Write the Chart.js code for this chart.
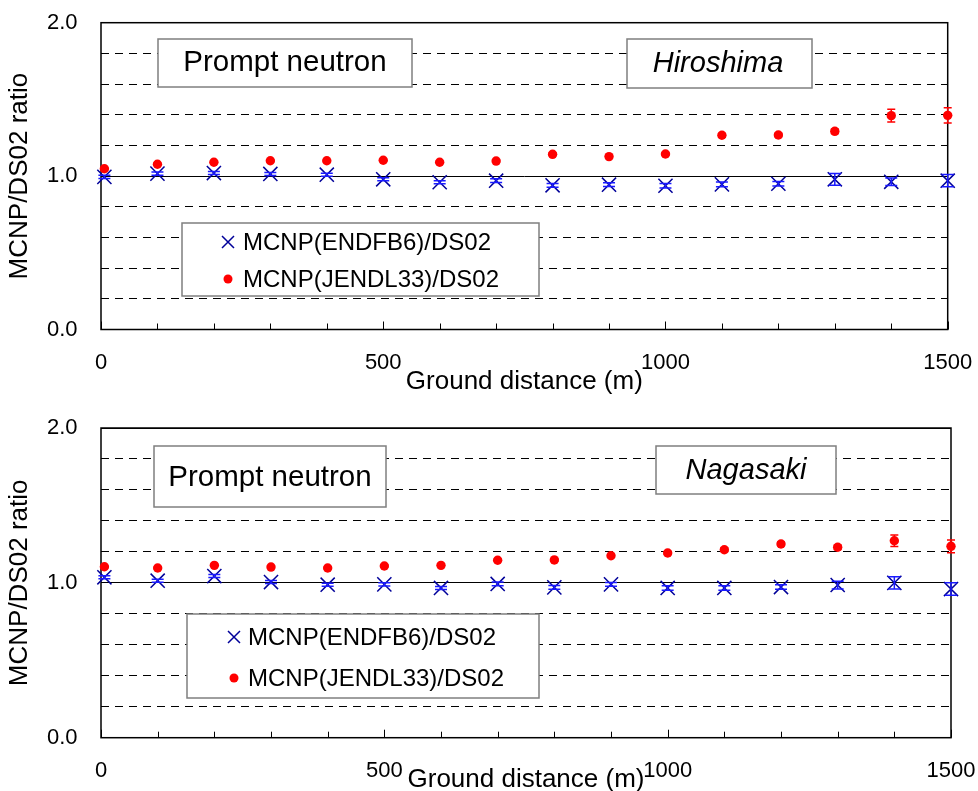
<!DOCTYPE html>
<html>
<head>
<meta charset="utf-8">
<script src="https://cdn.jsdelivr.net/npm/chart.js@4/dist/chart.umd.min.js"></script>
<style>
  html, body { margin: 0; padding: 0; background: #fff; overflow: hidden; }
  canvas { position: absolute; left: 0; }
  #chartA { top: 0; }
  #chartB { top: 395px; }
</style>
</head>
<body>
<canvas id="chartA" width="978" height="395"></canvas>
<canvas id="chartB" width="978" height="396"></canvas>
<script>
/*----data----*/
const distances = [6, 100, 200, 300, 400, 500, 600, 700, 800, 900, 1000, 1100, 1200, 1300, 1400, 1500];
const xTickLabels = [0, 500, 1000, 1500];
const yTickLabels = [0, 1, 2];

// Hiroshima
const hiroEndf    = [0.995, 1.016, 1.020, 1.014, 1.009, 0.979, 0.960, 0.970, 0.940, 0.944, 0.937, 0.946, 0.950, 0.979, 0.963, 0.970];
const hiroEndfErr = [0.010, 0.010, 0.010, 0.010, 0.010, 0.010, 0.010, 0.012, 0.012, 0.012, 0.015, 0.015, 0.015, 0.038, 0.025, 0.040];
const hiroJendl    = [1.048, 1.077, 1.090, 1.100, 1.100, 1.103, 1.090, 1.098, 1.142, 1.127, 1.144, 1.266, 1.268, 1.292, 1.394, 1.396];
const hiroJendlErr = [0.005, 0.005, 0.005, 0.005, 0.005, 0.006, 0.006, 0.006, 0.008, 0.008, 0.010, 0.012, 0.012, 0.015, 0.042, 0.050];

// Nagasaki
const nagaEndf    = [1.036, 1.014, 1.044, 1.005, 0.988, 0.990, 0.967, 0.993, 0.971, 0.990, 0.967, 0.967, 0.973, 0.986, 1.000, 0.960];
const nagaEndfErr = [0.010, 0.010, 0.010, 0.010, 0.010, 0.010, 0.010, 0.012, 0.012, 0.012, 0.015, 0.015, 0.015, 0.025, 0.040, 0.040];
const nagaJendl    = [1.104, 1.096, 1.113, 1.102, 1.096, 1.109, 1.113, 1.146, 1.148, 1.175, 1.193, 1.214, 1.251, 1.230, 1.272, 1.236];
const nagaJendlErr = [0.005, 0.005, 0.005, 0.005, 0.005, 0.006, 0.006, 0.006, 0.008, 0.008, 0.010, 0.012, 0.012, 0.015, 0.037, 0.041];

const seriesNames = ['MCNP(ENDFB6)/DS02', 'MCNP(JENDL33)/DS02'];

const FONT = '"Liberation Sans", Arial, sans-serif';
const BLUE = '#000099';
const ERRBLUE = '#1a1aff';
const RED = '#ff0000';

Chart.defaults.font.family = FONT;
Chart.defaults.color = '#000';

function isLabelled(v, list) {
  return list.some(t => Math.abs(v - t) < 1e-6);
}

/*----error bars (through the scales)----*/
const errorBars = {
  id: 'errorBars',
  afterDatasetsDraw(chart) {
    const ctx = chart.ctx, xs = chart.scales.x, ys = chart.scales.y;
    chart.data.datasets.forEach(ds => {
      ctx.save();
      ctx.strokeStyle = ds.errColor;
      ctx.lineWidth = 1.5;
      ds.data.forEach((p, i) => {
        const e = ds.errors[i];
        const px = xs.getPixelForValue(p.x);
        const top = ys.getPixelForValue(p.y + e);
        const bot = ys.getPixelForValue(p.y - e);
        ctx.beginPath();
        ctx.moveTo(px, top); ctx.lineTo(px, bot);
        ctx.moveTo(px - ds.capHalf, top); ctx.lineTo(px + ds.capHalf, top);
        ctx.moveTo(px - ds.capHalf, bot); ctx.lineTo(px + ds.capHalf, bot);
        ctx.stroke();
      });
      ctx.restore();
    });
  }
};

/*----frame, inner ticks, text boxes, legend----*/
const decor = {
  id: 'decor',
  beforeDatasetsDraw(chart, args, opts) {
    const ctx = chart.ctx, a = chart.chartArea, xs = chart.scales.x;
    ctx.save();
    // boxes
    opts.boxes.forEach(b => {
      ctx.fillStyle = '#fff';
      ctx.fillRect(b.x, b.y, b.w, b.h);
      ctx.strokeStyle = '#7f7f7f';
      ctx.lineWidth = 1.5;
      ctx.strokeRect(b.x, b.y, b.w, b.h);
      ctx.fillStyle = '#000';
      ctx.font = (b.italic ? 'italic ' : '') + b.size + 'px ' + FONT;
      ctx.textAlign = 'center';
      ctx.textBaseline = 'middle';
      ctx.fillText(b.text, b.tx, b.ty);
    });
    // legend
    const L = opts.legend;
    ctx.fillStyle = '#fff';
    ctx.fillRect(L.x, L.y, L.w, L.h);
    ctx.strokeStyle = '#7f7f7f';
    ctx.lineWidth = 1.5;
    ctx.strokeRect(L.x, L.y, L.w, L.h);
    ctx.strokeStyle = BLUE;
    ctx.lineWidth = 1.5;
    ctx.beginPath();
    ctx.moveTo(L.sx - 6, L.y1 - 6); ctx.lineTo(L.sx + 6, L.y1 + 6);
    ctx.moveTo(L.sx + 6, L.y1 - 6); ctx.lineTo(L.sx - 6, L.y1 + 6);
    ctx.stroke();
    ctx.fillStyle = RED;
    ctx.beginPath();
    ctx.arc(L.sx, L.y2, 4.5, 0, Math.PI * 2);
    ctx.fill();
    ctx.fillStyle = '#000';
    ctx.font = '24px ' + FONT;
    ctx.textAlign = 'left';
    ctx.textBaseline = 'middle';
    ctx.fillText(seriesNames[0], L.tx, L.y1 + 1);
    ctx.fillText(seriesNames[1], L.tx, L.y2 + 1);
    // frame
    ctx.strokeStyle = '#000';
    ctx.lineWidth = 1.5;
    ctx.strokeRect(a.left, a.top, a.right - a.left, a.bottom - a.top);
    // tick marks pointing inward
    ctx.lineWidth = 1;
    xs.ticks.forEach(t => {
      const px = Math.round(xs.getPixelForValue(t.value)) + 0.5;
      const len = isLabelled(t.value, xTickLabels) ? 8 : 6;
      ctx.beginPath();
      ctx.moveTo(px, a.bottom);
      ctx.lineTo(px, a.bottom - len);
      ctx.stroke();
    });
    ctx.restore();
  }
};

function makeChart(id, endf, endfErr, jendl, jendlErr, cfg) {
  return new Chart(id, {
    type: 'scatter',
    data: {
      datasets: [{
        label: seriesNames[0],
        data: distances.map((d, i) => ({ x: d, y: endf[i] })),
        errors: endfErr,
        errColor: ERRBLUE,
        capHalf: 6,
        pointStyle: 'crossRot',
        pointRadius: 10,
        borderColor: BLUE,
        borderWidth: 1.5,
        clip: false,
        order: 2
      }, {
        label: seriesNames[1],
        data: distances.map((d, i) => ({ x: d, y: jendl[i] })),
        errors: jendlErr,
        errColor: RED,
        capHalf: 4,
        pointStyle: 'circle',
        pointRadius: 4.7,
        backgroundColor: RED,
        borderColor: RED,
        borderWidth: 0,
        clip: false,
        order: 1
      }]
    },
    options: {
      responsive: false,
      animation: false,
      events: [],
      layout: { padding: { top: cfg.top, right: cfg.right, left: 0, bottom: 0 } },
      plugins: {
        legend: { display: false },
        tooltip: { enabled: false },
        decor: { boxes: cfg.boxes, legend: cfg.legend }
      },
      scales: {
        x: {
          type: 'linear',
          min: 0,
          max: 1500,
          afterFit: s => { s.height = cfg.xAxisH; s.paddingLeft = 0; s.paddingRight = 0; },
          grid: { display: false, drawTicks: false },
          border: { display: false },
          ticks: {
            stepSize: 100,
            autoSkip: false,
            maxRotation: 0,
            padding: 22.5,
            color: '#000',
            font: { size: 22, lineHeight: 1 },
            callback: v => isLabelled(v, xTickLabels) ? String(v) : ''
          },
          title: {
            display: true,
            text: 'Ground distance (m)',
            color: '#000',
            font: { size: 26, lineHeight: 1 },
            padding: { top: 0, bottom: cfg.titlePad }
          }
        },
        y: {
          min: 0,
          max: 2,
          afterFit: s => { s.width = 101; s.paddingTop = 0; s.paddingBottom = 0; },
          grid: { drawTicks: false, color: '#000', lineWidth: 1 },
          border: {
            display: false,
            dash: c => (c.tick && isLabelled(c.tick.value, yTickLabels)) ? [] : [8, 6]
          },
          ticks: {
            stepSize: 0.2,
            padding: 23.5,
            color: '#000',
            font: { size: 22, lineHeight: 1 },
            callback: v => isLabelled(v, yTickLabels) ? v.toFixed(1) : ''
          },
          title: {
            display: true,
            text: 'MCNP/DS02 ratio',
            color: '#000',
            font: { size: 26, lineHeight: 1 },
            padding: { top: 7, bottom: 0 }
          }
        }
      }
    },
    plugins: [decor, errorBars]
  });
}

/*----Hiroshima----*/
makeChart('chartA', hiroEndf, hiroEndfErr, hiroJendl, hiroJendlErr, {
  top: 22.7, right: 30.3, xAxisH: 65.5, titlePad: 0,
  boxes: [
    { x: 158, y: 39, w: 254, h: 48, text: 'Prompt neutron', size: 29.5, tx: 285, ty: 63 },
    { x: 627, y: 39, w: 185, h: 49, text: 'Hiroshima', size: 29, italic: true, tx: 718, ty: 64 }
  ],
  legend: { x: 182, y: 223, w: 357, h: 73, sx: 228, tx: 243, y1: 242, y2: 279 }
});

/*----Nagasaki----*/
makeChart('chartB', nagaEndf, nagaEndfErr, nagaJendl, nagaJendlErr, {
  top: 33, right: 27, xAxisH: 53.3, titlePad: -2,
  boxes: [
    { x: 154, y: 51, w: 232, h: 61, text: 'Prompt neutron', size: 29.5, tx: 270, ty: 83 },
    { x: 656, y: 51, w: 180, h: 48, text: 'Nagasaki', size: 29, italic: true, tx: 746, ty: 76 }
  ],
  legend: { x: 187, y: 219, w: 352, h: 84, sx: 234, tx: 248, y1: 242, y2: 283 }
});
</script>
</body>
</html>
